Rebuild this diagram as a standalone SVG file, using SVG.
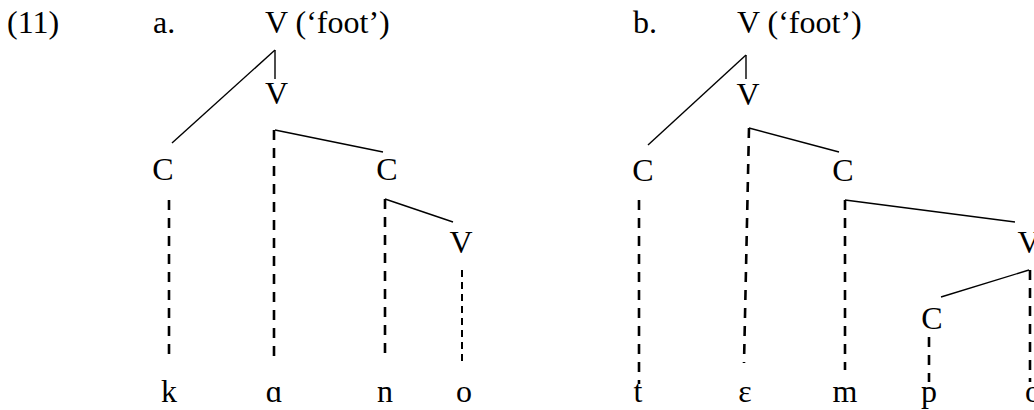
<svg xmlns="http://www.w3.org/2000/svg" width="1034" height="410" viewBox="0 0 1034 410" font-family="'Liberation Serif', 'DejaVu Serif', serif">
<style>
text{font-family:'Liberation Serif','DejaVu Serif',serif;font-size:32px;fill:#000}
.m{text-anchor:middle}
.s{stroke:#000;stroke-width:1.4;fill:none}
.d{stroke:#000;stroke-width:2.6;stroke-dasharray:10 8;fill:none}
.t{stroke:#000;stroke-width:2;stroke-dasharray:7 5;fill:none}
</style>
<rect width="1034" height="410" fill="#fff"/>
<g id="labels">
<text x="7" y="33">(11)</text>
<text x="153" y="33">a.</text>
<text x="633" y="33">b.</text>
</g>
<g id="connectors">
<line class="s" x1="275" y1="50" x2="275" y2="79"/>
<line class="s" x1="275" y1="50" x2="172" y2="143"/>
<line class="s" x1="275" y1="130" x2="383" y2="152"/>
<line class="s" x1="385" y1="199" x2="453" y2="222"/>
<line class="d" x1="169" y1="200" x2="169" y2="360"/>
<line class="d" x1="274" y1="130" x2="274" y2="363"/>
<line class="d" x1="385" y1="199" x2="385" y2="360"/>
<line class="t" x1="462" y1="270" x2="462" y2="362"/>
<line class="s" x1="746" y1="55" x2="746" y2="79"/>
<line class="s" x1="746" y1="55" x2="648" y2="145"/>
<line class="s" x1="749" y1="128" x2="839" y2="152"/>
<line class="s" x1="845" y1="200" x2="1015" y2="222"/>
<line class="s" x1="1029" y1="270" x2="941" y2="297"/>
<line class="d" x1="639" y1="200" x2="639" y2="384"/>
<line class="d" x1="749" y1="128" x2="744" y2="363"/>
<line class="d" x1="845" y1="200" x2="845" y2="370"/>
<line class="d" x1="1030" y1="270" x2="1030" y2="382"/>
<line class="d" x1="929" y1="337" x2="929" y2="382"/>
</g>
<g id="a-foot"><text x="265" y="33">V (‘foot’)</text></g>
<g id="a-V"><text class="m" x="276.5" y="104">V</text></g>
<g id="a-C1"><text class="m" x="163" y="180">C</text></g>
<g id="a-C2"><text class="m" x="387" y="180">C</text></g>
<g id="a-V2"><text class="m" x="461" y="253">V</text></g>
<g id="a-k"><text class="m" x="169" y="402">k</text></g>
<g id="a-a"><text class="m" x="274" y="402">ɑ</text></g>
<g id="a-n"><text class="m" x="385" y="402">n</text></g>
<g id="a-o"><text class="m" x="464" y="402">o</text></g>
<g id="b-foot"><text x="737" y="33">V (‘foot’)</text></g>
<g id="b-V"><text class="m" x="748" y="105">V</text></g>
<g id="b-C1"><text class="m" x="643" y="181">C</text></g>
<g id="b-C2"><text class="m" x="843" y="181">C</text></g>
<g id="b-V2"><text class="m" x="1029" y="253">V</text></g>
<g id="b-C3"><text class="m" x="932" y="329">C</text></g>
<g id="b-t"><text class="m" x="638" y="402">t</text></g>
<g id="b-e"><text class="m" x="745" y="402">ɛ</text></g>
<g id="b-m"><text class="m" x="845" y="402">m</text></g>
<g id="b-p"><text class="m" x="929" y="402">p</text></g>
<g id="b-o"><text class="m" x="1033" y="402">o</text></g>
</svg>
